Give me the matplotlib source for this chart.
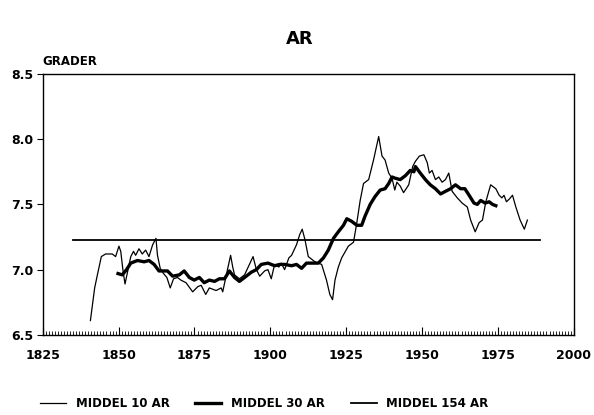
#!/usr/bin/env python3
"""Temperature means (GRADER) with 10-, 30- and 154-year averages."""

import matplotlib
matplotlib.use("Agg")
import matplotlib.pyplot as plt
from matplotlib.lines import Line2D
from matplotlib.ticker import MultipleLocator

# 10-year running mean (thin line)
years_10 = [1840.7, 1842.1, 1843.0, 1844.3, 1845.7, 1847.9, 1849.0, 1850.1, 1850.7, 1851.4,
            1852.1, 1853.1, 1854.0, 1854.9, 1855.6, 1856.7, 1857.8, 1858.9, 1860.0, 1861.2,
            1862.3, 1862.8, 1863.7, 1864.8, 1865.9, 1867.0, 1868.1, 1869.4, 1870.5, 1872.2,
            1874.4, 1876.1, 1877.2, 1878.7, 1879.9, 1882.1, 1883.8, 1884.3, 1885.4, 1886.9,
            1887.6, 1888.2, 1889.8, 1891.5, 1893.1, 1894.3, 1895.4, 1896.5, 1898.1, 1899.2,
            1900.3, 1901.4, 1902.8, 1903.6, 1904.7, 1906.1, 1907.0, 1908.6, 1909.7, 1910.5,
            1911.4, 1912.5, 1914.7, 1916.9, 1918.5, 1919.6, 1920.5, 1921.3, 1922.4, 1923.5,
            1925.7, 1927.4, 1928.5, 1929.6, 1930.7, 1932.4, 1934.0, 1935.7, 1936.8, 1937.8,
            1939.0, 1940.1, 1941.0, 1941.7, 1942.8, 1943.9, 1945.6, 1946.9, 1947.8, 1949.1,
            1950.6, 1951.7, 1952.4, 1953.3, 1954.4, 1955.5, 1956.6, 1957.7, 1958.8, 1959.9,
            1961.6, 1963.2, 1964.9, 1966.0, 1967.5, 1968.8, 1969.9, 1971.0, 1972.6, 1974.3,
            1975.4, 1976.3, 1977.0, 1977.8, 1978.7, 1979.8, 1980.9, 1982.3, 1983.7, 1984.7]
vals_10 = [6.61, 6.86, 6.96, 7.10, 7.12, 7.12, 7.10, 7.18, 7.14, 7.00,
           6.89, 7.00, 7.10, 7.14, 7.11, 7.16, 7.12, 7.15, 7.10, 7.19,
           7.24, 7.11, 7.01, 6.97, 6.94, 6.86, 6.93, 6.94, 6.92, 6.90,
           6.83, 6.87, 6.88, 6.81, 6.86, 6.84, 6.86, 6.83, 6.95, 7.11,
           7.02, 6.96, 6.93, 6.96, 7.04, 7.10, 7.00, 6.95, 6.99, 7.00,
           6.93, 7.04, 7.02, 7.05, 7.00, 7.09, 7.11, 7.19, 7.27, 7.31,
           7.23, 7.10, 7.06, 7.04, 6.92, 6.81, 6.77, 6.92, 7.02, 7.09,
           7.18, 7.21, 7.36, 7.53, 7.66, 7.69, 7.84, 8.02, 7.87, 7.84,
           7.74, 7.70, 7.61, 7.67, 7.64, 7.59, 7.65, 7.79, 7.83, 7.87,
           7.88, 7.82, 7.74, 7.76, 7.69, 7.71, 7.67, 7.69, 7.74, 7.60,
           7.55, 7.51, 7.48, 7.38, 7.29, 7.36, 7.38, 7.52, 7.65, 7.62,
           7.57, 7.55, 7.57, 7.52, 7.54, 7.57, 7.48, 7.38, 7.31, 7.38]

# 30-year running mean (thick line)
years_30 = [1849.8, 1851.2, 1852.6, 1854.0, 1856.2, 1858.4, 1860.0, 1861.7, 1863.3, 1865.0,
            1866.1, 1867.8, 1870.0, 1871.6, 1873.3, 1874.9, 1876.6, 1878.2, 1879.9, 1881.6,
            1883.2, 1884.9, 1886.5, 1888.2, 1889.8, 1891.5, 1893.7, 1895.4, 1897.0, 1899.2,
            1901.4, 1903.1, 1904.7, 1907.0, 1908.6, 1910.3, 1911.9, 1914.1, 1915.8, 1917.5,
            1919.1, 1920.8, 1922.4, 1924.1, 1925.2, 1926.8, 1928.5, 1930.1, 1931.2, 1932.9,
            1934.5, 1936.2, 1937.8, 1939.0, 1940.1, 1941.2, 1942.8, 1944.5, 1946.1, 1947.3,
            1947.8, 1949.4, 1951.1, 1952.7, 1954.4, 1956.1, 1957.7, 1959.4, 1961.0, 1962.7,
            1964.1, 1965.5, 1967.1, 1968.2, 1969.3, 1970.8, 1972.1, 1973.2, 1974.3]
vals_30 = [6.97, 6.96, 7.00, 7.05, 7.07, 7.06, 7.07, 7.04, 6.99, 6.99,
           6.99, 6.95, 6.96, 6.99, 6.94, 6.92, 6.94, 6.90, 6.92, 6.91,
           6.93, 6.93, 6.99, 6.94, 6.91, 6.94, 6.98, 7.00, 7.04, 7.05,
           7.03, 7.04, 7.04, 7.03, 7.04, 7.01, 7.05, 7.05, 7.05, 7.09,
           7.15, 7.24, 7.29, 7.34, 7.39, 7.37, 7.34, 7.34, 7.41, 7.50,
           7.56, 7.61, 7.62, 7.66, 7.71, 7.70, 7.69, 7.72, 7.76, 7.75,
           7.79, 7.74, 7.69, 7.65, 7.62, 7.58, 7.60, 7.62, 7.65, 7.62,
           7.62, 7.57, 7.51, 7.50, 7.53, 7.51, 7.52, 7.50, 7.49]

# 154-year mean (flat line)
years_154 = [1835, 1988.7]
vals_154 = [7.23, 7.23]

x_ticks = [1825, 1850, 1875, 1900, 1925, 1950, 1975, 2000]
y_ticks = [6.5, 7.0, 7.5, 8.0, 8.5]

FONT = "DejaVu Sans"


def main() -> None:
    fig = plt.figure(figsize=(5.94, 4.15), dpi=100)
    ax = fig.add_axes([0.072, 0.193, 0.894, 0.629])

    ax.plot(years_10, vals_10, color="black", lw=0.9)
    ax.plot(years_30, vals_30, color="black", lw=2.4)
    ax.plot(years_154, vals_154, color="black", lw=1.3)

    ax.set_xlim(1825, 2000)
    ax.set_ylim(6.5, 8.5)
    ax.set_xticks(x_ticks)
    ax.set_yticks(y_ticks)
    ax.xaxis.set_minor_locator(MultipleLocator(1))
    ax.tick_params(axis="x", which="major", direction="in", length=6, width=0.8, pad=10)
    ax.tick_params(axis="x", which="minor", direction="in", length=3, width=0.6)
    ax.tick_params(axis="y", direction="out", length=4, width=0.8, pad=3)
    for spine in ax.spines.values():
        spine.set_linewidth(1.0)

    ax.set_xticklabels([str(t) for t in x_ticks], fontsize=9, fontweight="bold", family=FONT)
    ax.set_yticklabels([f"{t:.1f}" for t in y_ticks], fontsize=9, fontweight="bold", family=FONT)

    fig.text(0.072, 0.835, "GRADER", fontsize=8.5, fontweight="bold", family=FONT,
             ha="left", va="bottom")
    fig.text(0.505, 0.905, "AR", fontsize=13, fontweight="bold", family=FONT,
             ha="center", va="center")

    handles = [
        Line2D([0], [0], color="black", lw=0.9, label="MIDDEL 10 AR"),
        Line2D([0], [0], color="black", lw=2.4, label="MIDDEL 30 AR"),
        Line2D([0], [0], color="black", lw=1.3, label="MIDDEL 154 AR"),
    ]
    fig.legend(handles=handles, loc="center", bbox_to_anchor=(0.445, 0.028), ncol=3,
               frameon=False, handlelength=2.2, columnspacing=2.2,
               prop={"family": FONT, "weight": "bold", "size": 8.5})

    fig.savefig("out.png", dpi=100)
    plt.close(fig)


if __name__ == "__main__":
    main()
